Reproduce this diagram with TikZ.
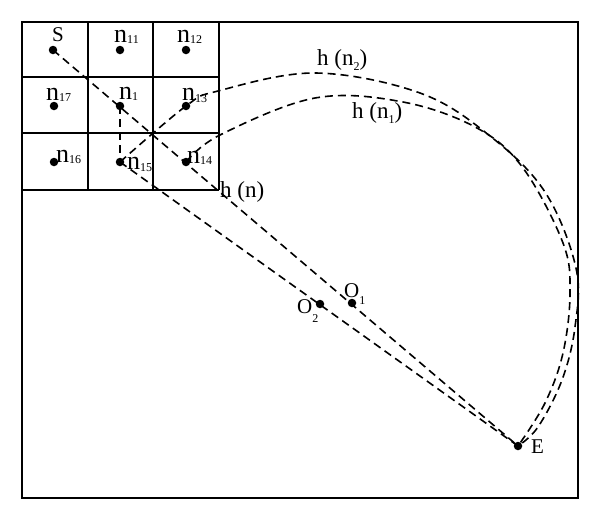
\documentclass[tikz,border=0pt]{standalone}
\usepackage{fontspec}
\setmainfont{Liberation Serif}
\newcommand{\lsub}[2][3pt]{\raisebox{-#1}{\fontsize{12}{13}\selectfont #2}}
\begin{document}
\begin{tikzpicture}[x=1pt,y=-1pt,
  dot/.style={circle,fill=black,inner sep=0pt,minimum size=8.5pt},
  lab/.style={inner sep=0pt,anchor=base west},
  nlab/.style={lab,font=\fontsize{26}{28}\selectfont},
  hlab/.style={lab,font=\fontsize{23}{25}\selectfont},
  clab/.style={lab,font=\fontsize{21}{23}\selectfont},
  dline/.style={dash pattern=on 8pt off 5pt,line width=1.6pt},
  frame/.style={line width=1.7pt}]
\useasboundingbox (0,0) rectangle (600,520);
% frame and grid
\draw[frame] (22,22) rectangle (578,498);
\draw[frame] (22,77) -- (219,77) (22,133) -- (219,133) (22,190) -- (219,190)
  (88,22) -- (88,190) (153,22) -- (153,190) (219,22) -- (219,190);
% dots
\node[dot] (S) at (53,50) {};
\node[dot] (n11) at (120,50) {};
\node[dot] (n12) at (186,50) {};
\node[dot] (n17) at (54,106) {};
\node[dot] (n1) at (120,106) {};
\node[dot] (n13) at (186,106) {};
\node[dot] (n16) at (54,162) {};
\node[dot] (n15) at (120,162) {};
\node[dot] (n14) at (186,162) {};
\node[dot] (O1) at (352,303) {};
\node[dot] (O2) at (320,304) {};
\node[dot] (E) at (518,446) {};
% labels
\node[clab] (lS) at (52,41) {S};
\node[nlab] (l11) at (114,42) {n\lsub[1pt]{11}};
\node[nlab] (l12) at (177,42) {n\lsub[1pt]{12}};
\node[nlab] (l17) at (46,100) {n\lsub[1pt]{17}};
\node[nlab] (l1) at (119,99) {n\lsub[1pt]{1}};
\node[nlab] (l13) at (182,100) {n\lsub[2pt]{13}};
\node[nlab] (l16) at (56,162) {n\lsub[1pt]{16}};
\node[nlab] (l15) at (127,169) {n\lsub[2pt]{15}};
\node[nlab] (l14) at (187,163) {n\lsub[1pt]{14}};
\node[hlab] (lh) at (220,197) {h (n)};
\node[hlab] (lh2) at (317,65) {h (n\lsub[5pt]{2})};
\node[hlab] (lh1) at (352,118) {h (n\lsub[5pt]{1})};
\node[clab] (lO1) at (344,297) {O\lsub[7pt]{1}};
\node[clab] (lO2) at (297,313) {O\lsub[9pt]{2}};
\node[clab] (lE) at (531,453) {E};
% straight dashed lines
\draw[dline] (S.center) -- (E.center);
\draw[dline] (n15.center) -- (E.center);
\draw[dline] (n1.center) -- (n15.center);
% h(n2) curve
\draw[dline] plot[smooth,tension=0.6] coordinates {(n15.center) (n13.center) (218,91) (315,73) (420,93) (490,136) (545,192) (576,268) (575,327) (562,380) (538,427) (E.center)};
% h(n1) curve
\draw[dline] plot[smooth,tension=0.6] coordinates {(n14.center) (220,135) (315,98) (403,102) (477,128) (523,168) (563,243) (570,293) (563,353) (545,403) (E.center)};
\end{tikzpicture}
\end{document}
